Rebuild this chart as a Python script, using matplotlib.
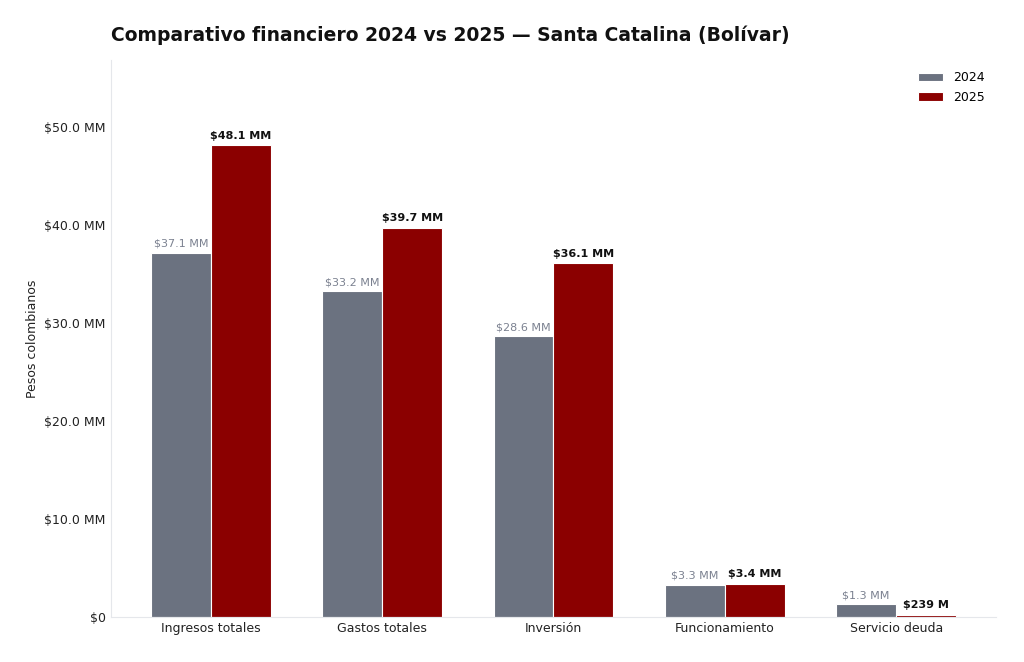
import numpy as np
import matplotlib
matplotlib.use("Agg")
import matplotlib.pyplot as plt
from matplotlib.ticker import FuncFormatter

categorias = ["Ingresos totales", "Gastos totales", "Inversión", "Funcionamiento", "Servicio deuda"]
# valores en miles de millones de pesos
valores_2024 = [37.1, 33.2, 28.6, 3.3, 1.3]
valores_2025 = [48.1, 39.7, 36.1, 3.4, 0.239]

COLOR_2024 = "#6b7280"
COLOR_2025 = "#8b0000"


def fmt_pesos(v):
    if v == 0:
        return "$0"
    if v >= 1:
        return f"${v:.1f} MM"
    return f"${v * 1000:.0f} M"


fig = plt.figure(figsize=(10.24, 6.62), dpi=100)
ax = fig.add_axes([0.108, 0.068, 0.865, 0.841])

x = np.arange(len(categorias))
w = 0.35
b1 = ax.bar(x - w/2, valores_2024, w, color=COLOR_2024, edgecolor="white", linewidth=0.8, label="2024")
b2 = ax.bar(x + w/2, valores_2025, w, color=COLOR_2025, edgecolor="white", linewidth=0.8, label="2025")

for bar, v in zip(b1, valores_2024):
    ax.annotate(fmt_pesos(v), xy=(bar.get_x() + bar.get_width()/2, v), xytext=(0, 3),
                textcoords="offset points", ha="center", va="bottom", fontsize=8, color="#7b8190")
for bar, v in zip(b2, valores_2025):
    ax.annotate(fmt_pesos(v), xy=(bar.get_x() + bar.get_width()/2, v), xytext=(0, 3),
                textcoords="offset points", ha="center", va="bottom", fontsize=8,
                fontweight="bold", color="#111111")

ax.set_ylim(0, max(valores_2025) * 1.18)
ax.yaxis.set_major_formatter(FuncFormatter(lambda v, p: fmt_pesos(v)))
ax.set_xticks(x)
ax.set_xticklabels(categorias)
ax.tick_params(axis="both", length=0, labelsize=9, colors="#222222", pad=3.5)
ax.set_ylabel("Pesos colombianos", fontsize=9, color="#222222")

for s in ["top", "right"]:
    ax.spines[s].set_visible(False)
for s in ["left", "bottom"]:
    ax.spines[s].set_color("#e5e7eb")

ax.legend(loc="upper right", frameon=False, fontsize=9)
ax.set_title("Comparativo financiero 2024 vs 2025 — Santa Catalina (Bolívar)",
             loc="left", fontsize=13.5, fontweight="bold", color="#111111", pad=14)

fig.savefig("out.png", dpi=100)
